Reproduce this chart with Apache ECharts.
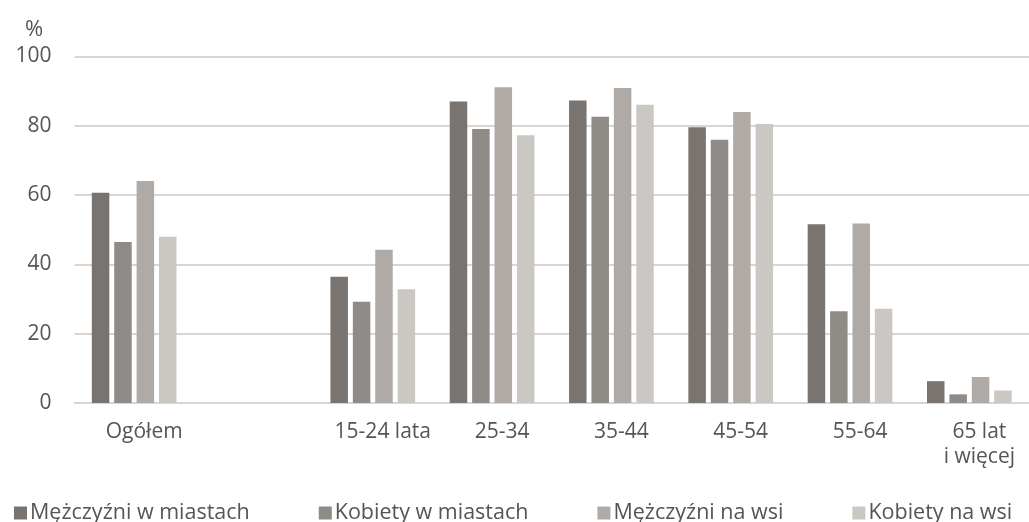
<!DOCTYPE html>
<html>
<head>
<meta charset="utf-8">
<script src="https://cdn.jsdelivr.net/npm/echarts@6/dist/echarts.min.js"></script>
<style>
  html, body { margin: 0; padding: 0; background: #fff; }
  #chart { width: 1029px; height: 522px; }
</style>
</head>
<body>
<div id="chart"></div>
<script>
// kategorie (pusta kategoria = odstep po "Ogółem")
const categories = ['Ogółem', '', '15-24 lata', '25-34', '35-44', '45-54', '55-64', '65 lat\ni więcej']
const yTicks = [0, 20, 40, 60, 80, 100]

const menCity = [60.7, null, 36.4, 87.0, 87.3, 79.6, 51.6, 6.3]
const womenCity = [46.5, null, 29.2, 79.1, 82.6, 76.0, 26.5, 2.5]
const menVillage = [64.1, null, 44.2, 91.1, 90.9, 84.0, 51.8, 7.5]
const womenVillage = [48.0, null, 32.8, 77.3, 86.1, 80.5, 27.2, 3.6]

const seriesNames = ['Mężczyźni w miastach', 'Kobiety w miastach', 'Mężczyźni na wsi', 'Kobiety na wsi']
const seriesColors = ['#79746f', '#8f8b86', '#afaaa5', '#cbc7c3']

const textColor = '#555555'
const gridColor = '#d9d5d2'
const font = 'Open Sans'

const chart = echarts.init(document.getElementById('chart'))

function bar (i, data) {
  return {
    name: seriesNames[i],
    type: 'bar',
    data: data,
    barWidth: 17.5,
    barGap: '28%',
    itemStyle: { color: seriesColors[i] }
  }
}

const option = {
  animation: false,
  title: {
    text: '%',
    left: 20,
    top: 14,
    textStyle: { color: textColor, fontFamily: font, fontSize: 22, fontWeight: 'normal' }
  },
  legend: {
    left: 9,
    top: 497,
    icon: 'rect',
    itemWidth: 13,
    itemHeight: 13,
    itemGap: 69,
    data: seriesNames,
    textStyle: { color: textColor, fontFamily: font, fontSize: 21.5, padding: [0, 0, 0, -2] }
  },
  grid: {
    left: 74.5,
    top: 56.5,
    width: 968,
    height: 346.5,
    containLabel: false
  },
  xAxis: {
    type: 'category',
    data: categories,
    axisTick: { show: false },
    axisLine: { lineStyle: { color: gridColor, width: 2 } },
    axisLabel: {
      interval: 0,
      margin: 17,
      color: textColor,
      fontFamily: font,
      fontSize: 21,
      lineHeight: 25,
      padding: [0, 0, 0, 20]
    }
  },
  yAxis: {
    type: 'value',
    min: yTicks[0],
    max: yTicks[yTicks.length - 1],
    interval: yTicks[1] - yTicks[0],
    axisLine: { show: false },
    axisTick: { show: false },
    axisLabel: { margin: 23, color: textColor, fontFamily: font, fontSize: 21 },
    splitLine: { lineStyle: { color: gridColor, width: 2 } }
  },
  series: [
    bar(0, menCity),
    bar(1, womenCity),
    bar(2, menVillage),
    bar(3, womenVillage)
  ]
}

chart.setOption(option)
</script>
</body>
</html>
